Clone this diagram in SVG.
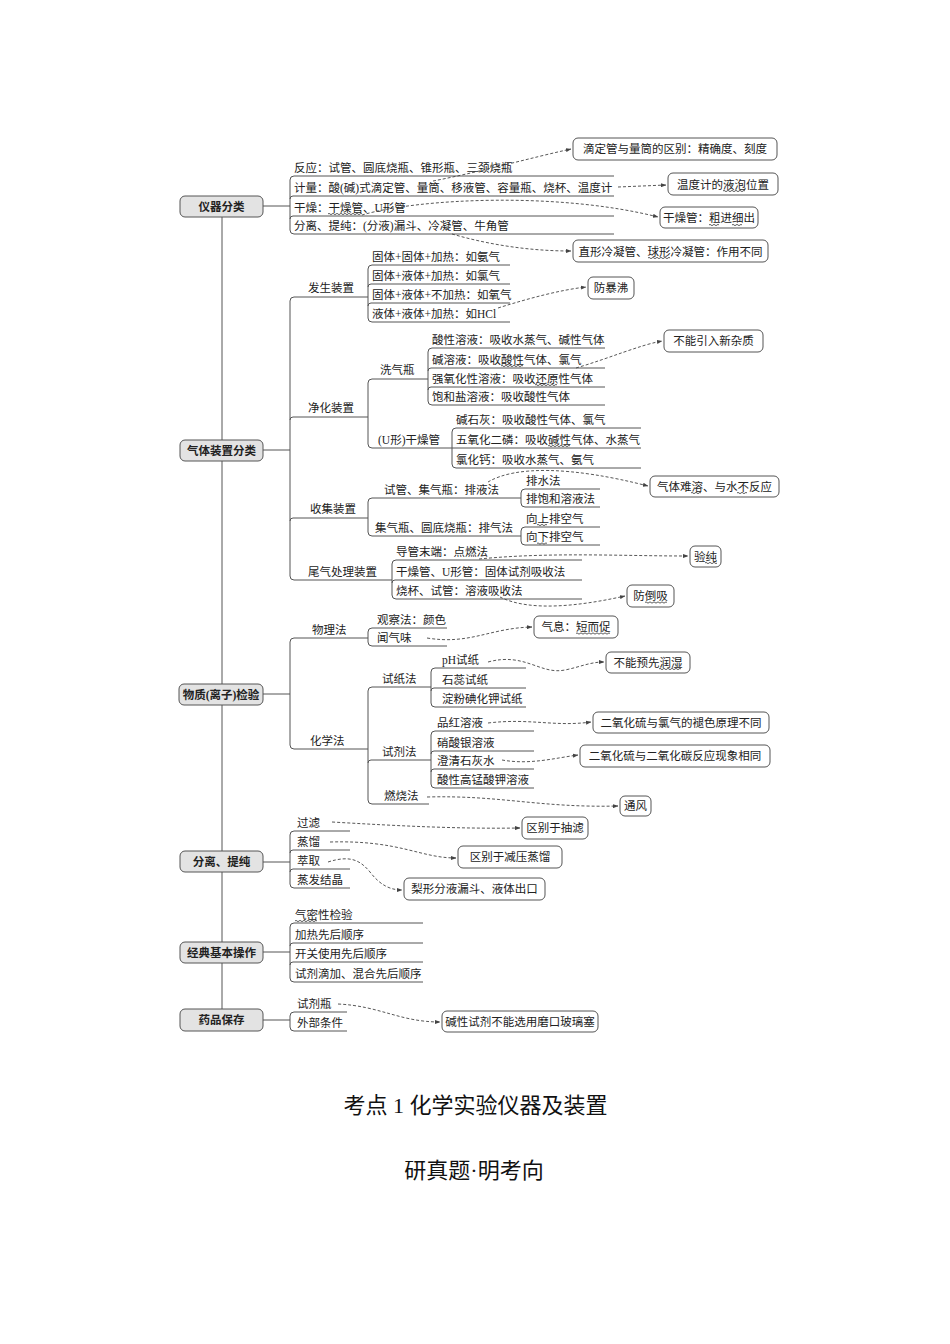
<svg xmlns="http://www.w3.org/2000/svg" width="950" height="1344" viewBox="0 0 950 1344">
<defs>
<marker id="ah" viewBox="0 0 8 6" refX="7.5" refY="3" markerWidth="6" markerHeight="5" orient="auto"><path d="M0,0 L8,3 L0,6 z" fill="#444"/></marker>
<style>
text{font-family:"Liberation Serif","Noto Sans CJK SC",serif;font-size:11.5px;fill:#222}
.rt{font-weight:bold;text-anchor:middle}
.bc{text-anchor:middle}
.ttl{font-size:22px;text-anchor:middle;fill:#111}
.ln{stroke:#555;stroke-width:1;fill:none}
.rb{fill:#e3e3e3;stroke:#555;stroke-width:1}
.cb{fill:#fff;stroke:#555;stroke-width:1}
.ds{stroke:#444;stroke-width:0.9;fill:none;stroke-dasharray:3,2;marker-end:url(#ah)}
.wv{stroke:#333;stroke-width:0.8;fill:none}
</style>
</defs>
<rect width="950" height="1344" fill="#fff"/>

<g id="connectors">
<path class="ln" d="M222,217 V1009"/>
<path class="ln" d="M263,206 H290 M614,176 H294 Q290,176 290,180 V230 Q290,234 294,234 H614 M290,199 Q290,196 293,196 H614 M290,219 Q290,216 293,216 H614"/>
<path class="ln" d="M263,450 H290 M368,297 H294 Q290,297 290,301 V576 Q290,580 294,580 H392 M290,420 Q290,417 293,417 H368 M290,521 Q290,518 293,518 H368"/>
<path class="ln" d="M510,265 H372 Q368,265 368,269 V318 Q368,322 372,322 H510 M368,287 Q368,284 371,284 H510 M368,306 Q368,303 371,303 H510"/>
<path class="ln" d="M428,379 H372 Q368,379 368,383 V444 Q368,448 372,448 H452"/>
<path class="ln" d="M605,348 H432 Q428,348 428,352 V401 Q428,405 432,405 H605 M428,371 Q428,368 431,368 H605 M428,390 Q428,387 431,387 H605"/>
<path class="ln" d="M641,428 H456 Q452,428 452,432 V464 Q452,468 456,468 H641 M452,448 H641"/>
<path class="ln" d="M521,498 H372 Q368,498 368,502 V532 Q368,536 372,536 H521"/>
<path class="ln" d="M600,489 H525 Q521,489 521,493 V503 Q521,507 525,507 H600 M600,527 H525 Q521,527 521,531 V541 Q521,545 525,545 H600"/>
<path class="ln" d="M582,560 H396 Q392,560 392,564 V595 Q392,599 396,599 H582 M392,583 Q392,580 395,580 H582"/>
<path class="ln" d="M263,694 H290 M368,638 H294 Q290,638 290,642 V745 Q290,749 294,749 H368"/>
<path class="ln" d="M447,628 H372 Q368,628 368,632 V642 Q368,646 372,646 H447"/>
<path class="ln" d="M431,687 H372 Q368,687 368,691 V800 Q368,804 372,804 H429 M368,763 Q368,760 371,760 H431"/>
<path class="ln" d="M526,668 H435 Q431,668 431,672 V703 Q431,707 435,707 H526 M431,691 Q431,688 434,688 H526"/>
<path class="ln" d="M534,731 H435 Q431,731 431,735 V784 Q431,788 435,788 H534 M431,754 Q431,751 434,751 H534 M431,772 Q431,769 434,769 H534"/>
<path class="ln" d="M263,862 H290 M350,831 H294 Q290,831 290,835 V884 Q290,888 294,888 H350 M290,853 Q290,850 293,850 H350 M290,872 Q290,869 293,869 H350"/>
<path class="ln" d="M263,952 H290 M423,923 H294 Q290,923 290,927 V978 Q290,982 294,982 H423 M290,946 Q290,943 293,943 H423 M290,965 Q290,962 293,962 H423"/>
<path class="ln" d="M263,1020 H290 M347,1012 H294 Q290,1012 290,1016 V1027 Q290,1031 294,1031 H347"/>

<path class="ds" d="M433,181 C480,172 530,158 571,149"/>
<path class="ds" d="M618,187 L666,185"/>
<path class="ds" d="M362,215 C420,198 560,192 658,217"/>
<path class="ds" d="M452,234 C490,245 530,251 571,251"/>
<path class="ds" d="M498,308 C530,298 560,290 586,287"/>
<path class="ds" d="M576,368 C610,358 640,345 662,341"/>
<path class="ds" d="M488,482 C515,466 570,466 648,486"/>
<path class="ds" d="M479,559 C550,552 620,556 688,556"/>
<path class="ds" d="M500,597 C530,612 580,606 625,596"/>
<path class="ds" d="M427,638 C470,645 490,628 532,627"/>
<path class="ds" d="M488,662 C525,652 540,675 565,670 C580,667 590,662 604,662"/>
<path class="ds" d="M488,723 C530,718 555,727 591,722"/>
<path class="ds" d="M502,760 C530,765 555,758 578,755"/>
<path class="ds" d="M427,797 C500,795 540,808 618,806"/>
<path class="ds" d="M332,822 C400,826 460,829 520,828"/>
<path class="ds" d="M330,842 C400,840 420,858 456,858"/>
<path class="ds" d="M328,862 C350,855 360,860 370,872 C380,885 390,890 402,890"/>
<path class="ds" d="M338,1004 C380,1006 400,1022 440,1022"/>
</g>

<g id="n-yiqi">
<rect class="rb" x="180" y="196" width="83" height="21" rx="5"/>
<text class="rt" x="221.5" y="210.5">仪器分类</text>
<text x="294" y="171.5">反应：试管、圆底烧瓶、锥形瓶、三颈烧瓶</text>
<text x="294" y="191.5">计量：酸(碱)式滴定管、量筒、移液管、容量瓶、烧杯、温度计</text>
<text x="294" y="211.5">干燥：干燥管、U形管</text>
<path class="wv" d="M328,214 q1,-1.3 2,0 t2,0 t2,0 t2,0 t2,0 t2,0 t2,0 t2,0 t2,0 t2,0 t2,0 t2,0 t2,0 t2,0 t2,0 t2,0 t2,0"/>
<text x="294" y="229.5">分离、提纯：(分液)漏斗、冷凝管、牛角管</text>
</g>
<g id="c-didingguan">
<rect class="cb" x="573" y="138" width="204" height="22" rx="5"/>
<text class="bc" x="675" y="153">滴定管与量筒的区别：精确度、刻度</text>
</g>
<g id="c-wenduji">
<rect class="cb" x="668" y="173" width="110" height="22" rx="5"/>
<text class="bc" x="723" y="188.5">温度计的液泡位置</text>
<path class="wv" d="M723,191 q1,-1.3 2,0 t2,0 t2,0 t2,0 t2,0 t2,0 t2,0 t2,0 t2,0 t2,0 t2,0"/>
</g>
<g id="c-ganzaoguan">
<rect class="cb" x="660" y="207" width="98" height="21" rx="5"/>
<text class="bc" x="709" y="222">干燥管：粗进细出</text>
<path class="wv" d="M709,225 q1,-1.3 2,0 t2,0 t2,0 t2,0 t2,0 M732,225 q1,-1.3 2,0 t2,0 t2,0 t2,0 t2,0"/>
</g>
<g id="c-lengning">
<rect class="cb" x="573" y="240" width="195" height="22" rx="5"/>
<text class="bc" x="670.5" y="255.5">直形冷凝管、球形冷凝管：作用不同</text>
<path class="wv" d="M648,258 q1,-1.3 2,0 t2,0 t2,0 t2,0 t2,0 t2,0 t2,0 t2,0 t2,0 t2,0 t2,0"/>
</g>

<g id="n-qiti">
<rect class="rb" x="180" y="440" width="83" height="21" rx="5"/>
<text class="rt" x="221.5" y="454.5">气体装置分类</text>
</g>
<g id="n-fasheng">
<text x="308" y="292">发生装置</text>
<text x="372" y="260.5">固体+固体+加热：如氨气</text>
<text x="372" y="279.5">固体+液体+加热：如氯气</text>
<text x="372" y="298.5">固体+液体+不加热：如氧气</text>
<text x="372" y="317.5">液体+液体+加热：如HCl</text>
</g>
<g id="c-baofei">
<rect class="cb" x="588" y="277" width="46" height="22" rx="5"/>
<text class="bc" x="611" y="292">防暴沸</text>
</g>
<g id="n-jinghua">
<text x="308" y="412">净化装置</text>
<text x="380" y="374">洗气瓶</text>
<text x="378" y="444">(U形)干燥管</text>
<text x="432" y="343.5">酸性溶液：吸收水蒸气、碱性气体</text>
<text x="432" y="363.5">碱溶液：吸收酸性气体、氯气</text>
<path class="wv" d="M501,366 q1,-1.3 2,0 t2,0 t2,0 t2,0 t2,0 t2,0 t2,0 t2,0 t2,0 t2,0 t2,0"/>
<text x="432" y="382.5">强氧化性溶液：吸收还原性气体</text>
<path class="wv" d="M535,385 q1,-1.3 2,0 t2,0 t2,0 t2,0 t2,0 t2,0 t2,0 t2,0 t2,0 t2,0 t2,0"/>
<text x="432" y="400.5">饱和盐溶液：吸收酸性气体</text>
<text x="456" y="423.5">碱石灰：吸收酸性气体、氯气</text>
<text x="456" y="443.5">五氧化二磷：吸收碱性气体、水蒸气</text>
<path class="wv" d="M548,446 q1,-1.3 2,0 t2,0 t2,0 t2,0 t2,0 t2,0 t2,0 t2,0 t2,0 t2,0 t2,0"/>
<text x="456" y="463.5">氯化钙：吸收水蒸气、氨气</text>
</g>
<g id="c-zazhi">
<rect class="cb" x="664" y="330" width="99" height="22" rx="5"/>
<text class="bc" x="713.5" y="345">不能引入新杂质</text>
</g>
<g id="n-shouji">
<text x="310" y="513">收集装置</text>
<text x="384" y="493.5">试管、集气瓶：排液法</text>
<text x="375" y="531.5">集气瓶、圆底烧瓶：排气法</text>
<text x="526" y="484.5">排水法</text>
<text x="526" y="502.5">排饱和溶液法</text>
<text x="526" y="522.5">向上排空气</text>
<path class="wv" d="M537,525 q1,-1.3 2,0 t2,0 t2,0 t2,0 t2,0"/>
<text x="526" y="540.5">向下排空气</text>
<path class="wv" d="M537,543.5 q1,-1.3 2,0 t2,0 t2,0 t2,0 t2,0"/>
</g>
<g id="c-nanrong">
<rect class="cb" x="650" y="476" width="129" height="21" rx="5"/>
<text class="bc" x="714.5" y="490.5">气体难溶、与水不反应</text>
<path class="wv" d="M691,493 q1,-1.3 2,0 t2,0 t2,0 t2,0 t2,0 M737,493 q1,-1.3 2,0 t2,0 t2,0 t2,0 t2,0"/>
</g>
<g id="n-weiqi">
<text x="308" y="576">尾气处理装置</text>
<text x="396" y="555.5">导管末端：点燃法</text>
<text x="396" y="575.5">干燥管、U形管：固体试剂吸收法</text>
<text x="396" y="594.5">烧杯、试管：溶液吸收法</text>
</g>
<g id="c-yanchun">
<rect class="cb" x="690" y="546" width="31" height="21" rx="5"/>
<text class="bc" x="705.5" y="560.5">验纯</text>
<path class="wv" d="M705,563 q1,-1.3 2,0 t2,0 t2,0 t2,0 t2,0 t2,0"/>
</g>
<g id="c-daoxi">
<rect class="cb" x="627" y="585" width="47" height="22" rx="5"/>
<text class="bc" x="650.5" y="600">防倒吸</text>
<path class="wv" d="M645,602.5 q1,-1.3 2,0 t2,0 t2,0 t2,0 t2,0 t2,0 t2,0 t2,0 t2,0 t2,0 t2,0"/>
</g>

<g id="n-jianyan">
<rect class="rb" x="179" y="684" width="84" height="21" rx="5"/>
<text class="rt" x="221" y="698.5">物质(离子)检验</text>
</g>
<g id="n-wuli">
<text x="312" y="634">物理法</text>
<text x="377" y="623.5">观察法：颜色</text>
<text x="377" y="641.5">闻气味</text>
</g>
<g id="c-qixi">
<rect class="cb" x="534" y="616" width="84" height="22" rx="5"/>
<text class="bc" x="576" y="631">气息：短而促</text>
<path class="wv" d="M576,633.5 q1,-1.3 2,0 t2,0 t2,0 t2,0 t2,0 t2,0 t2,0 t2,0 t2,0 t2,0 t2,0 t2,0 t2,0 t2,0 t2,0 t2,0 t2,0"/>
</g>
<g id="n-huaxue">
<text x="310" y="745">化学法</text>
<text x="382" y="682.5">试纸法</text>
<text x="442" y="663.5">pH试纸</text>
<text x="442" y="683.5">石蕊试纸</text>
<text x="442" y="702.5">淀粉碘化钾试纸</text>
<text x="382" y="755.5">试剂法</text>
<text x="437" y="726.5">品红溶液</text>
<text x="437" y="746.5">硝酸银溶液</text>
<text x="437" y="764.5">澄清石灰水</text>
<text x="437" y="783.5">酸性高锰酸钾溶液</text>
<text x="384" y="799.5">燃烧法</text>
</g>
<g id="c-runshi">
<rect class="cb" x="606" y="652" width="84" height="21" rx="5"/>
<text class="bc" x="648" y="666.5">不能预先润湿</text>
<path class="wv" d="M659,669 q1,-1.3 2,0 t2,0 t2,0 t2,0 t2,0 t2,0 t2,0 t2,0 t2,0 t2,0 t2,0"/>
</g>
<g id="c-tuise">
<rect class="cb" x="593" y="712" width="176" height="21" rx="5"/>
<text class="bc" x="681" y="726.5">二氧化硫与氯气的褪色原理不同</text>
</g>
<g id="c-xianxiang">
<rect class="cb" x="580" y="745" width="190" height="22" rx="5"/>
<text class="bc" x="675" y="760">二氧化硫与二氧化碳反应现象相同</text>
</g>
<g id="c-tongfeng">
<rect class="cb" x="620" y="796" width="31" height="20" rx="5"/>
<text class="bc" x="635.5" y="810">通风</text>
</g>

<g id="n-fenli">
<rect class="rb" x="180" y="851" width="83" height="21" rx="5"/>
<text class="rt" x="221.5" y="865.5">分离、提纯</text>
<text x="297" y="826.5">过滤</text>
<text x="297" y="845.5">蒸馏</text>
<text x="297" y="864.5">萃取</text>
<text x="297" y="883.5">蒸发结晶</text>
</g>
<g id="c-chouliu">
<rect class="cb" x="522" y="817" width="66" height="22" rx="5"/>
<text class="bc" x="555" y="832">区别于抽滤</text>
</g>
<g id="c-jianya">
<rect class="cb" x="458" y="846" width="104" height="22" rx="5"/>
<text class="bc" x="510" y="861">区别于减压蒸馏</text>
</g>
<g id="c-lixing">
<rect class="cb" x="404" y="878" width="141" height="22" rx="5"/>
<text class="bc" x="474.5" y="893">梨形分液漏斗、液体出口</text>
</g>

<g id="n-caozuo">
<rect class="rb" x="180" y="942" width="83" height="21" rx="5"/>
<text class="rt" x="221.5" y="956.5">经典基本操作</text>
<text x="295" y="918.5">气密性检验</text>
<path class="wv" d="M295,921 q1,-1.3 2,0 t2,0 t2,0 t2,0 t2,0 t2,0 t2,0 t2,0 t2,0 t2,0 t2,0"/>
<text x="295" y="938.5">加热先后顺序</text>
<text x="295" y="957.5">开关使用先后顺序</text>
<text x="295" y="977.5">试剂滴加、混合先后顺序</text>
</g>

<g id="n-baocun">
<rect class="rb" x="180" y="1009" width="83" height="22" rx="5"/>
<text class="rt" x="221.5" y="1024">药品保存</text>
<text x="297" y="1007.5">试剂瓶</text>
<text x="297" y="1026.5">外部条件</text>
</g>
<g id="c-mokou">
<rect class="cb" x="442" y="1011" width="156" height="21" rx="5"/>
<text class="bc" x="520" y="1025.5">碱性试剂不能选用磨口玻璃塞</text>
</g>

<g id="titles">
<text class="ttl" x="475.5" y="1113" xml:space="preserve">考点 1 化学实验仪器及装置</text>
<text class="ttl" x="474" y="1178">研真题·明考向</text>
</g>
</svg>
